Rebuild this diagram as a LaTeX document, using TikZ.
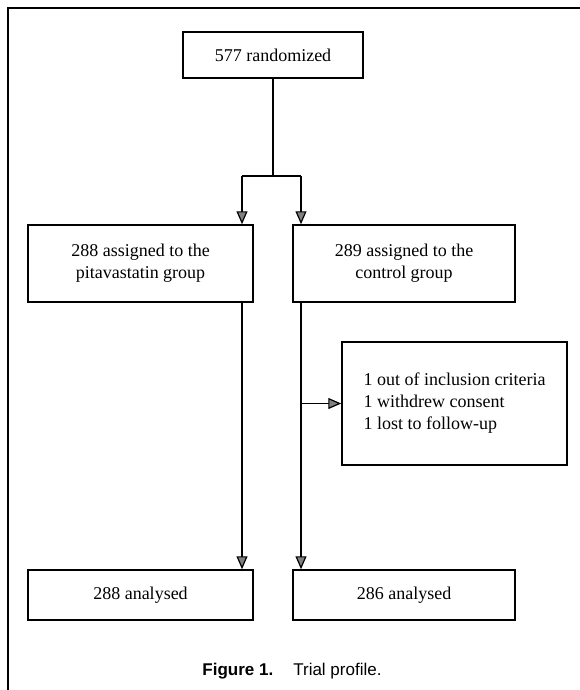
\documentclass[tikz,border=0pt]{standalone}
\usepackage{fontspec}
\setmainfont{Liberation Serif}
\setsansfont{Liberation Sans}
\usetikzlibrary{arrows.meta}
\begin{document}
\begin{tikzpicture}[x=1pt, y=-1pt,
  box/.style={draw, line width=1.5pt, align=center, inner sep=0pt, font=\fontsize{18}{22}\selectfont},
  arr/.style={line width=1.2pt, -{Triangle[width=11pt,length=13pt,fill=gray]}}]
\useasboundingbox (0,0) rectangle (580,690);
\draw[line width=2pt] (8,690) -- (8,8) -- (580,8);
\node[box, minimum width=180pt, minimum height=46pt] (rand) at (273,55){577 randomized};
\node[box, minimum width=225pt, minimum height=77pt] (pita) at (140.5,263.5){288 assigned to the\\pitavastatin group};
\node[box, minimum width=222pt, minimum height=77pt] (ctrl) at (404,263.5){289 assigned to the\\control group};
\node[box, minimum width=225pt, minimum height=123pt, align=left] (excl) at (454.5,403.5){1 out of inclusion criteria\\1 withdrew consent\\1 lost to follow-up};
\node[box, minimum width=225pt, minimum height=50pt] (ana1) at (140.5,595){288 analysed};
\node[box, minimum width=222pt, minimum height=50pt] (ana2) at (404,595){286 analysed};
\node[anchor=base, font=\sffamily\fontsize{17}{20}\selectfont] (cap) at (292,675){\textbf{Figure 1.}\hspace{20pt}Trial profile.};
\coordinate (split) at (273,176);
\coordinate (sl) at (242,176);
\coordinate (sr) at (301,176);
\draw[line width=1.2pt](rand) -- (split);
\draw[line width=1.2pt](sl) -- (sr);
\draw[arr](sl) -- (sl |- pita.north);
\draw[arr](sr) -- (sr |- ctrl.north);
\draw[arr](sl |- pita.south) -- (sl |- ana1.north);
\draw[arr](sr |- ctrl.south) -- (sr |- ana2.north);
\draw[arr](sr |- excl.west) -- (excl.west);
\end{tikzpicture}
\end{document}
